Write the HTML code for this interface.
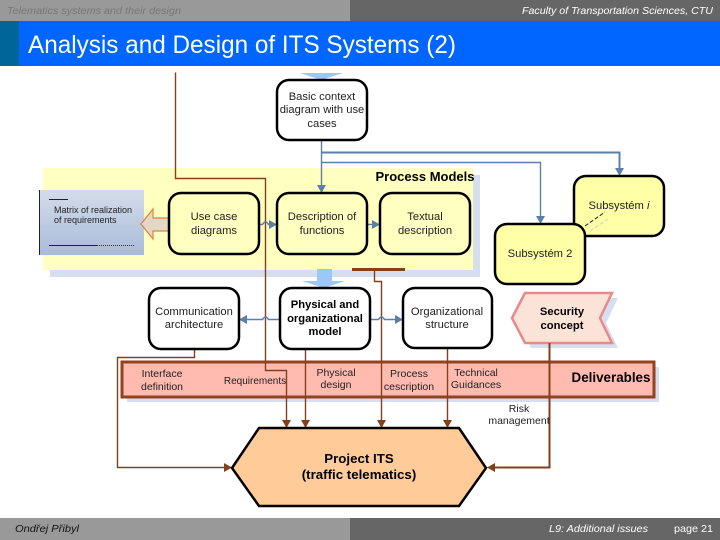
<!DOCTYPE html>
<html><head><meta charset="utf-8"><style>
html,body{margin:0;padding:0;background:#fff}
svg{display:block}
text{font-family:"Liberation Sans",sans-serif;font-size:11.2px;fill:#222;text-anchor:middle}
.s{font-size:10.5px}
.b{font-weight:bold;fill:#000}
.h{font-style:italic;text-anchor:start;font-size:10.5px}
.box{stroke:#000;stroke-width:2.5}
.br{fill:none;stroke:#84401c;stroke-width:1.4}
.bl{fill:none;stroke:#5b7fa8;stroke-width:1.4}
</style></head><body>
<svg width="720" height="540" viewBox="0 0 720 540" xmlns="http://www.w3.org/2000/svg">
<defs><linearGradient id="m" x1="0" y1="0" x2="0" y2="1"><stop offset="0" stop-color="#d4dcea"/><stop offset="1" stop-color="#a9bbd9"/></linearGradient></defs>
<rect x="0" y="0" width="350" height="21" fill="#999"/>
<rect x="350" y="0" width="370" height="21" fill="#666"/>
<rect x="0" y="21" width="720" height="45" fill="#0066ff"/>
<rect x="0" y="21" width="19" height="45" fill="#006699"/>
<text class="h" x="7" y="14" style="fill:#777" textLength="174" lengthAdjust="spacingAndGlyphs">Telematics systems and their design</text>
<text class="h" x="522" y="14" style="fill:#fff" textLength="191" lengthAdjust="spacingAndGlyphs">Faculty of Transportation Sciences, CTU</text>
<text x="28" y="53" style="font-size:25px;fill:#fff;text-anchor:start" textLength="428" lengthAdjust="spacingAndGlyphs">Analysis and Design of ITS Systems (2)</text>

<rect x="50" y="175" width="430" height="102" fill="#d6dfee"/>
<rect x="43" y="168" width="430" height="102" fill="#ffffc0"/>
<text class="b" x="425" y="181" style="font-size:13px">Process Models</text>

<polygon points="300,73 343,73 321,80" fill="#9cc8f8"/>
<rect x="317" y="269" width="15" height="13" fill="#9cc8f8"/>
<polygon points="302,281 345,281 324,288" fill="#9cc8f8"/>

<rect x="127" y="367" width="532" height="35" fill="#d6dfee"/>
<rect x="122" y="362" width="532" height="35" fill="#ffbbb0" stroke="#93421f" stroke-width="3"/>

<g transform="translate(.5 .5)">
<path class="br" d="M175,72V178H265V370H286V421"/>
<path class="br" d="M305,349V421"/>
<path class="br" d="M374,270V281H381V421"/>
<path class="br" d="M447,348V421"/>
<path class="br" d="M549,343V467H494" style="stroke-width:2"/>
<path class="br" d="M194,349V357H117V467H225"/>
<path class="bl" d="M321,140V186"/>
<path class="bl" d="M321,152H619V169" style="stroke-width:2"/>
<path class="bl" d="M321,162H540V217"/>
<path class="bl" d="M259,224H262Q265,219 268,224H270M367,224H373M239,319H262Q265,314 268,319H280M370,319H378Q381,314 384,319H396" style="stroke-width:1.5"/>
</g>
<rect x="352" y="268" width="53" height="3" fill="#84401c"/>

<g fill="#84401c">
<polygon points="282,420 291,420 286.5,428"/>
<polygon points="301,420 310,420 305.5,428"/>
<polygon points="377,420 386,420 381.5,428"/>
<polygon points="443,420 452,420 447.5,428"/>
<polygon points="224,463 224,472 232,467.5"/>
<polygon points="495,463 495,472 487,467.5"/>
</g>
<g fill="#5b7fa8">
<polygon points="317,185 326,185 321.5,193"/>
<polygon points="615,168 624,168 619.5,176"/>
<polygon points="536,216 545,216 540.5,224"/>
<polygon points="269,220 269,229 277,224.5"/>
<polygon points="372,220 372,229 380,224.5"/>
<polygon points="247,315 247,324 239,319.5"/>
<polygon points="395,315 395,324 403,319.5"/>
</g>

<text class="s" x="162" y="377">Interface</text><text class="s" x="162" y="390">definition</text>
<text x="255" y="384" style="font-size:10px">Requirements</text>
<text class="s" x="336" y="376">Physical</text><text class="s" x="336" y="388">design</text>
<text class="s" x="409" y="377">Process</text><text class="s" x="409" y="390">cescription</text>
<text class="s" x="476" y="376">Technical</text><text class="s" x="476" y="388">Guidances</text>
<text class="b" x="611" y="382" style="font-size:13.4px">Deliverables</text>
<text class="s" x="519" y="412">Risk</text><text class="s" x="519" y="424">management</text>

<rect x="277" y="80" width="90" height="60" rx="12" fill="#fff" class="box"/>
<text x="322" y="100">Basic context</text><text x="322" y="113">diagram with use</text><text x="322" y="127">cases</text>

<rect x="39" y="190" width="105" height="65" fill="url(#m)"/>
<path d="M39.5,190V255" stroke="#222" fill="none"/>
<path d="M49,199.5H68M49,245.5H97" stroke="#222" fill="none"/>
<path d="M97,245.5H135" stroke="#333" stroke-dasharray="1 1" fill="none"/>
<text x="54" y="213" style="text-anchor:start;font-size:9px">Matrix of realization</text>
<text x="54" y="223" style="text-anchor:start;font-size:9px">of requirements</text>
<polygon points="141,224 153,209 153,218 169,218 169,231 153,231 153,239" fill="#e4d8c4" stroke="#e08040" stroke-width="1.2"/>

<rect x="169" y="193" width="90" height="61" rx="12" fill="#ffffc0" class="box"/>
<text x="214" y="220">Use case</text><text x="214" y="234">diagrams</text>
<rect x="277" y="193" width="90" height="61" rx="12" fill="#ffffc0" class="box"/>
<text x="322" y="220">Description of</text><text x="322" y="234">functions</text>
<rect x="380" y="193" width="90" height="61" rx="12" fill="#ffffc0" class="box"/>
<text x="425" y="220">Textual</text><text x="425" y="234">description</text>

<rect x="574" y="176" width="90" height="60" rx="12" fill="#ffffa8" class="box"/>
<text x="619" y="209">Subsystém <tspan font-style="italic">i</tspan></text>
<rect x="495" y="224" width="90" height="60" rx="12" fill="#ffffa8" class="box"/>
<text x="540" y="257">Subsystém 2</text>
<path d="M590,231L608,219" stroke="#ccc" stroke-dasharray="4 2" fill="none"/>
<path d="M585,226L605,212" stroke="#222" stroke-dasharray="4 2" fill="none"/>

<rect x="149" y="288" width="90" height="61" rx="12" fill="#fff" class="box"/>
<text x="194" y="315">Communication</text><text x="194" y="328">architecture</text>
<rect x="280" y="288" width="90" height="61" rx="12" fill="#fff" class="box"/>
<text class="b" x="325" y="308">Physical and</text><text class="b" x="325" y="322">organizational</text><text x="325" y="335" class="b">model</text>
<rect x="403" y="288" width="89" height="60" rx="12" fill="#fff" class="box"/>
<text x="447" y="315">Organizational</text><text x="447" y="328">structure</text>

<polygon points="518,323 531,298 618,298 606,323 618,348 531,348" fill="#d6dfee"/>
<polygon points="512,318 525,293 612,293 600,318 612,343 525,343" fill="#fbe3d8" stroke="#e88a8a" stroke-width="2.5"/>
<path class="br" d="M549.5,343V362" style="stroke-width:2"/>
<text class="b" x="562" y="315">Security</text><text class="b" x="562" y="329">concept</text>

<polygon points="232,468 259,428 459,428 486,468 459,506 259,506" fill="#ffcc99" stroke="#000" stroke-width="2.5"/>
<text class="b" x="359" y="463" style="font-size:13.3px">Project ITS</text>
<text class="b" x="359" y="479" style="font-size:13.3px">(traffic telematics)</text>

<rect x="0" y="518" width="350" height="22" fill="#999"/>
<rect x="350" y="518" width="370" height="22" fill="#666"/>
<text class="h" x="15" y="532" style="fill:#111" textLength="64" lengthAdjust="spacingAndGlyphs">Ondřej Přibyl</text>
<text class="h" x="549" y="532" style="fill:#fff" textLength="99" lengthAdjust="spacingAndGlyphs">L9: Additional issues</text>
<text class="h" x="674" y="532" style="fill:#fff;font-style:normal" textLength="39" lengthAdjust="spacingAndGlyphs">page 21</text>
</svg>
</body></html>
